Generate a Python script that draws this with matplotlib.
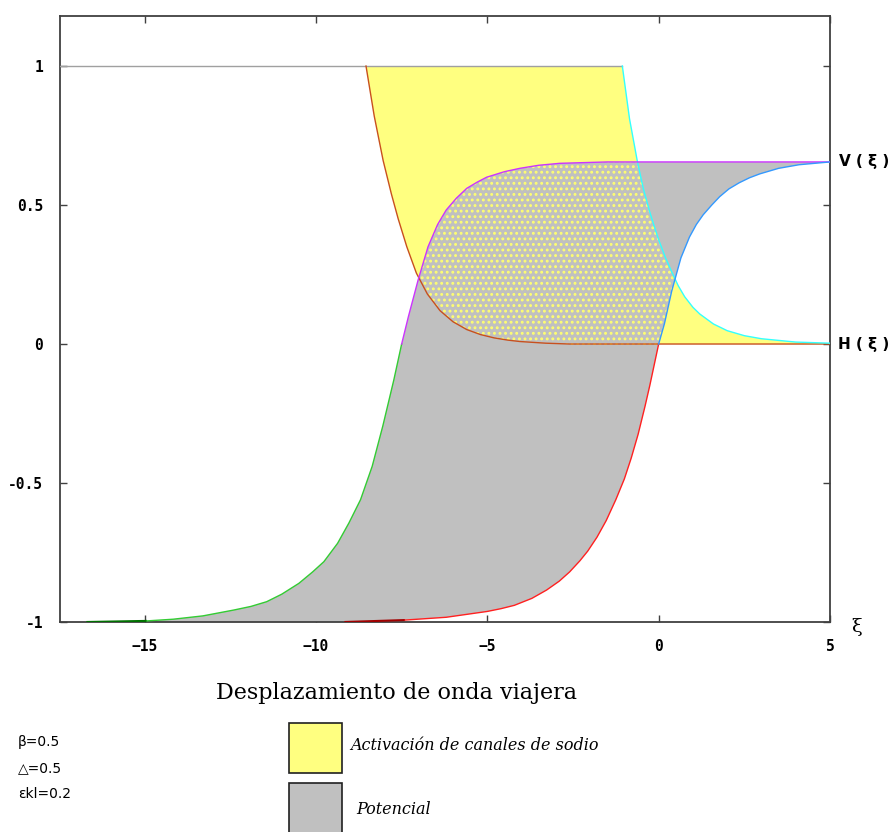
import numpy as np
import matplotlib
matplotlib.use("Agg")
import matplotlib.pyplot as plt
from matplotlib.patches import Polygon, Rectangle

# ---- data -------------------------------------------------------------
# H(xi): sodium-channel gating, leading and trailing fronts
h_left_xi = [-8.54, -8.3, -8.04, -7.8, -7.6, -7.35, -7.07, -6.75, -6.38, -6.0, -5.6,
             -5.2, -4.8, -4.4, -4.05, -3.3, -2.6, 5.0]
h_left = [1.0, 0.82, 0.66, 0.54, 0.45, 0.35, 0.255, 0.18, 0.12, 0.08, 0.052,
          0.034, 0.022, 0.014, 0.009, 0.003, 0.0, 0.0]

h_right_xi = [-1.06, -0.85, -0.62, -0.45, -0.26, -0.12, 0.0, 0.2, 0.38, 0.57, 0.76,
              1.0, 1.2, 1.6, 2.0, 2.5, 3.0, 4.0, 5.0]
h_right = [1.0, 0.81, 0.656, 0.56, 0.475, 0.42, 0.375, 0.31, 0.26, 0.21, 0.17,
           0.132, 0.108, 0.072, 0.048, 0.03, 0.019, 0.007, 0.003]

# V(xi): membrane potential, leading and trailing fronts
v_left_xi = [-16.7, -14.93, -14.17, -13.3, -12.4, -11.9, -11.44, -11.0, -10.5, -10.1,
             -9.77, -9.37, -9.04, -8.7, -8.36, -8.05, -7.73, -7.5, -7.3, -7.02, -6.73,
             -6.45, -6.2, -5.9, -5.6, -5.3, -5.02, -4.5, -4.05, -3.5, -2.89, -1.5, 5.0]
v_left = [-1.0, -0.996, -0.99, -0.978, -0.957, -0.944, -0.927, -0.90, -0.861, -0.82,
          -0.783, -0.717, -0.644, -0.56, -0.44, -0.295, -0.13, 0.0, 0.1, 0.23, 0.35,
          0.43, 0.482, 0.525, 0.56, 0.582, 0.60, 0.62, 0.632, 0.643, 0.65, 0.655, 0.655]

v_right_xi = [-9.17, -7.4, -6.2, -5.0, -4.6, -4.21, -3.7, -3.27, -2.9, -2.6, -2.3,
              -2.07, -1.8, -1.53, -1.25, -1.0, -0.8, -0.6, -0.4, -0.26, 0.0, 0.17,
              0.38, 0.65, 0.9, 1.1, 1.3, 1.55, 1.78, 2.05, 2.35, 2.65, 2.95, 3.5,
              4.1, 5.0]
v_right = [-1.0, -0.993, -0.983, -0.962, -0.952, -0.94, -0.915, -0.885, -0.853, -0.82,
           -0.78, -0.745, -0.695, -0.635, -0.56, -0.485, -0.41, -0.325, -0.225, -0.15,
           0.0, 0.074, 0.19, 0.31, 0.385, 0.43, 0.465, 0.50, 0.53, 0.558, 0.58, 0.598,
           0.612, 0.632, 0.645, 0.655]

x_ticks = [-15, -10, -5, 0, 5]
y_ticks = [-1, -0.5, 0, 0.5, 1]
y_tick_labels = ["-1", "-0.5", "0", "0.5", "1"]
x_range = (-17.47, 5.0)
y_range = (-1.0, 1.18)

params = ["β=0.5", "△=0.5", "εkl=0.2"]
legend_labels = ["Activación de canales de sodio", "Potencial"]
title = "Desplazamiento de onda viajera"

# ---- colours ----------------------------------------------------------
YELLOW = "#ffff80"
GRAY = "#c0c0c0"
C_TOP = "#a0a0a0"
C_HL = "#c8501e"
C_HR = "#33ffff"
C_GREEN_DARK = "#007000"
C_GREEN = "#33cc33"
C_MAGENTA = "#cc33ff"
C_RED_DARK = "#a00000"
C_RED = "#ff2020"
C_BLUE = "#3399ff"

# ---- figure -----------------------------------------------------------
W, H = 896, 832
fig = plt.figure(figsize=(W / 100, H / 100), dpi=100)
ax = fig.add_axes([60 / W, 1 - 622 / H, 770 / W, 606 / H])
ax.set_xlim(*x_range)
ax.set_ylim(*y_range)

# yellow region between the two H fronts
hx = np.array([h_left_xi[0]] + h_right_xi + h_left_xi[::-1])
hy = np.array([1.0] + h_right + h_left[::-1])
yellow_poly = Polygon(np.column_stack([hx, hy]), closed=True, facecolor=YELLOW,
                      edgecolor="none", zorder=1)
ax.add_patch(yellow_poly)

# gray region between the two V fronts
vx = np.array(v_left_xi + v_right_xi[::-1])
vy = np.array(v_left + v_right[::-1])
gray_poly = Polygon(np.column_stack([vx, vy]), closed=True, facecolor=GRAY,
                    edgecolor="none", zorder=2)
ax.add_patch(gray_poly)

# stippled overlap: yellow dots over gray where both regions meet
plt.rcParams["hatch.linewidth"] = 1.3
overlap = Polygon(np.column_stack([hx, hy]), closed=True, facecolor="none",
                  edgecolor="#ffff70", linewidth=0, hatch="...", zorder=3)
ax.add_patch(overlap)
overlap.set_clip_path(gray_poly)

lw = 1.0


def seg(xs, ys, lo, hi):
    xs = np.asarray(xs)
    ys = np.asarray(ys)
    m = (xs >= lo) & (xs <= hi)
    return xs[m], ys[m]


# H curves
ax.plot([x_range[0], h_right_xi[0]], [1, 1], color=C_TOP, lw=lw, zorder=8)
ax.plot(h_left_xi, h_left, color=C_HL, lw=lw, zorder=8)
ax.plot(h_right_xi, h_right, color=C_HR, lw=lw, zorder=8)

# V left front
ax.plot(*seg(v_left_xi, v_left, -99, -14.93), color=C_GREEN_DARK, lw=lw + 0.5,
        zorder=8, solid_capstyle="butt")
ax.plot(*seg(v_left_xi, v_left, -14.93, -7.5), color=C_GREEN, lw=lw, zorder=8)
ax.plot(*seg(v_left_xi, v_left, -7.5, 99), color=C_MAGENTA, lw=lw, zorder=8)

# V right front
ax.plot(*seg(v_right_xi, v_right, -99, -7.4), color=C_RED_DARK, lw=lw + 0.5,
        zorder=8, solid_capstyle="butt")
ax.plot(*seg(v_right_xi, v_right, -7.4, 0.0), color=C_RED, lw=lw, zorder=8)
ax.plot(*seg(v_right_xi, v_right, 0.0, 99), color=C_BLUE, lw=lw, zorder=8)

# axes styling
for s in ax.spines.values():
    s.set_color("#404040")
    s.set_linewidth(1.3)
    s.set_zorder(7)
ax.set_xticks(x_ticks)
ax.set_yticks(y_ticks)
ax.set_yticklabels(y_tick_labels)
ax.tick_params(direction="in", length=5, width=1.0, color="#404040",
               top=True, right=True, labelsize=10.5)
ax.tick_params(axis="x", pad=12)
ax.tick_params(axis="y", pad=12)
for lab in ax.get_xticklabels() + ax.get_yticklabels():
    lab.set_fontfamily("DejaVu Sans Mono")
    lab.set_fontweight("bold")

# curve and axis labels
ax.text(1.012, (0.655 - y_range[0]) / (y_range[1] - y_range[0]), "V ( ξ )",
        transform=ax.transAxes, ha="left", va="center", fontsize=11,
        fontweight="bold", family="DejaVu Sans")
ax.text(1.010, (0.0 - y_range[0]) / (y_range[1] - y_range[0]), "H ( ξ )",
        transform=ax.transAxes, ha="left", va="center", fontsize=11,
        fontweight="bold", family="DejaVu Sans")
fig.text(857 / W, 1 - 627 / H, "ξ", ha="center", va="center", fontsize=14,
         family="DejaVu Serif")

# title under the plot
fig.text(396 / W, 1 - 693 / H, title, ha="center", va="center", fontsize=16,
         family="DejaVu Serif")

# parameter list
for i, p in enumerate(params):
    fig.text(18 / W, 1 - (742 + 26 * i) / H, p, ha="left", va="center",
             fontsize=10, family="DejaVu Sans")

# legend boxes
for i, (fc, lab, tx) in enumerate(zip([YELLOW, GRAY], legend_labels, [350, 356])):
    top = 723 + 60 * i
    fig.patches.append(Rectangle((289 / W, 1 - (top + 50) / H), 53 / W, 50 / H,
                                 transform=fig.transFigure, facecolor=fc,
                                 edgecolor="#202020", linewidth=1.2))
    fig.text(tx / W, 1 - (top + 23 + 4 * i) / H, lab, ha="left", va="center",
             fontsize=11.5, style="italic", family="DejaVu Serif")

fig.savefig("out.png", dpi=100)
